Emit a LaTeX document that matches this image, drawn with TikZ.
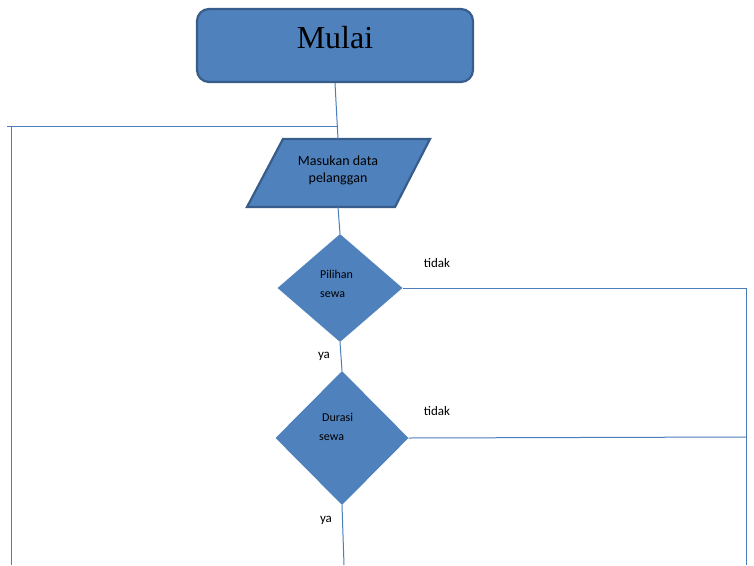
\documentclass[tikz,border=0pt]{standalone}
\usepackage{fontspec}
\setmainfont{Liberation Serif}
\newfontfamily\calib{Carlito}
\usetikzlibrary{shapes.geometric}
\definecolor{boxfill}{HTML}{4F81BD}
\definecolor{boxline}{HTML}{385D8A}
\definecolor{conn}{HTML}{4A7EBB}
\tikzset{
  shapebox/.style={fill=boxfill, draw=boxline, line width=2.2pt},
  decision/.style={diamond, fill=boxfill, draw=none, inner sep=0pt},
  conn/.style={draw=conn, line width=1pt},
  small/.style={font=\calib\fontsize{12}{19}\selectfont, inner sep=0pt, align=left, anchor=north west},
  lbl/.style={font=\calib\fontsize{13}{15}\selectfont, inner sep=0pt}
}
\begin{document}
\begin{tikzpicture}[x=1pt,y=-1pt]
\useasboundingbox (0,0) rectangle (754,565);
% Start box
\node[shapebox, rounded corners=12pt, minimum width=276pt, minimum height=73pt, inner sep=0pt,
      font=\fontsize{32}{32}\selectfont] (mulai) at (335,45.5) {\raisebox{17pt}{Mulai}};
% Parallelogram
\draw[shapebox] (283,139) -- (430,139) -- (395,207) -- (247,207) -- cycle;
\node[minimum width=140pt, minimum height=68pt, inner sep=0pt, align=center,
      font=\calib\fontsize{14}{21}\selectfont] (par) at (338,173) {\raisebox{8pt}{\shortstack{Masukan data\\[4pt]pelanggan}}};
% Decisions
\node[decision, minimum width=125pt, minimum height=108pt] (d1) at (340,288) {};
\node[decision, minimum width=133pt, minimum height=134pt] (d2) at (342,438) {};
\node[small] (t1) at (320,270) {Pilihan\\sewa};
\node[small] (t2) at (319,413) {\hspace*{3pt}Durasi\\sewa};
% Labels
\node[lbl] (tidak1) at (437,263) {tidak};
\node[lbl] (ya1) at (324,356) {ya};
\node[lbl] (tidak2) at (437,411) {tidak};
\node[lbl] (ya2) at (326,520) {ya};
% Connectors
\coordinate (j1) at (337,126);
\coordinate (lt) at (7,126);
\coordinate (lc) at (11,126);
\coordinate (lb) at (11,565);
\coordinate (r1) at (746,288);
\coordinate (r1b) at (746,565);
\coordinate (r2) at (746,437);
\coordinate (bot) at (344,565);
\draw[conn] (mulai.south) -- (par.north);
\draw[conn] (j1) -- (lt);
\draw[conn] (lc) -- (lb);
\draw[conn] (par.south) -- (d1.north);
\draw[conn] (d1.east) -- (r1) -- (r1b);
\draw[conn] (d1.south) -- (d2.north);
\draw[conn] (d2.east) -- (r2);
\draw[conn] (d2.south) -- (bot);
\end{tikzpicture}
\end{document}
